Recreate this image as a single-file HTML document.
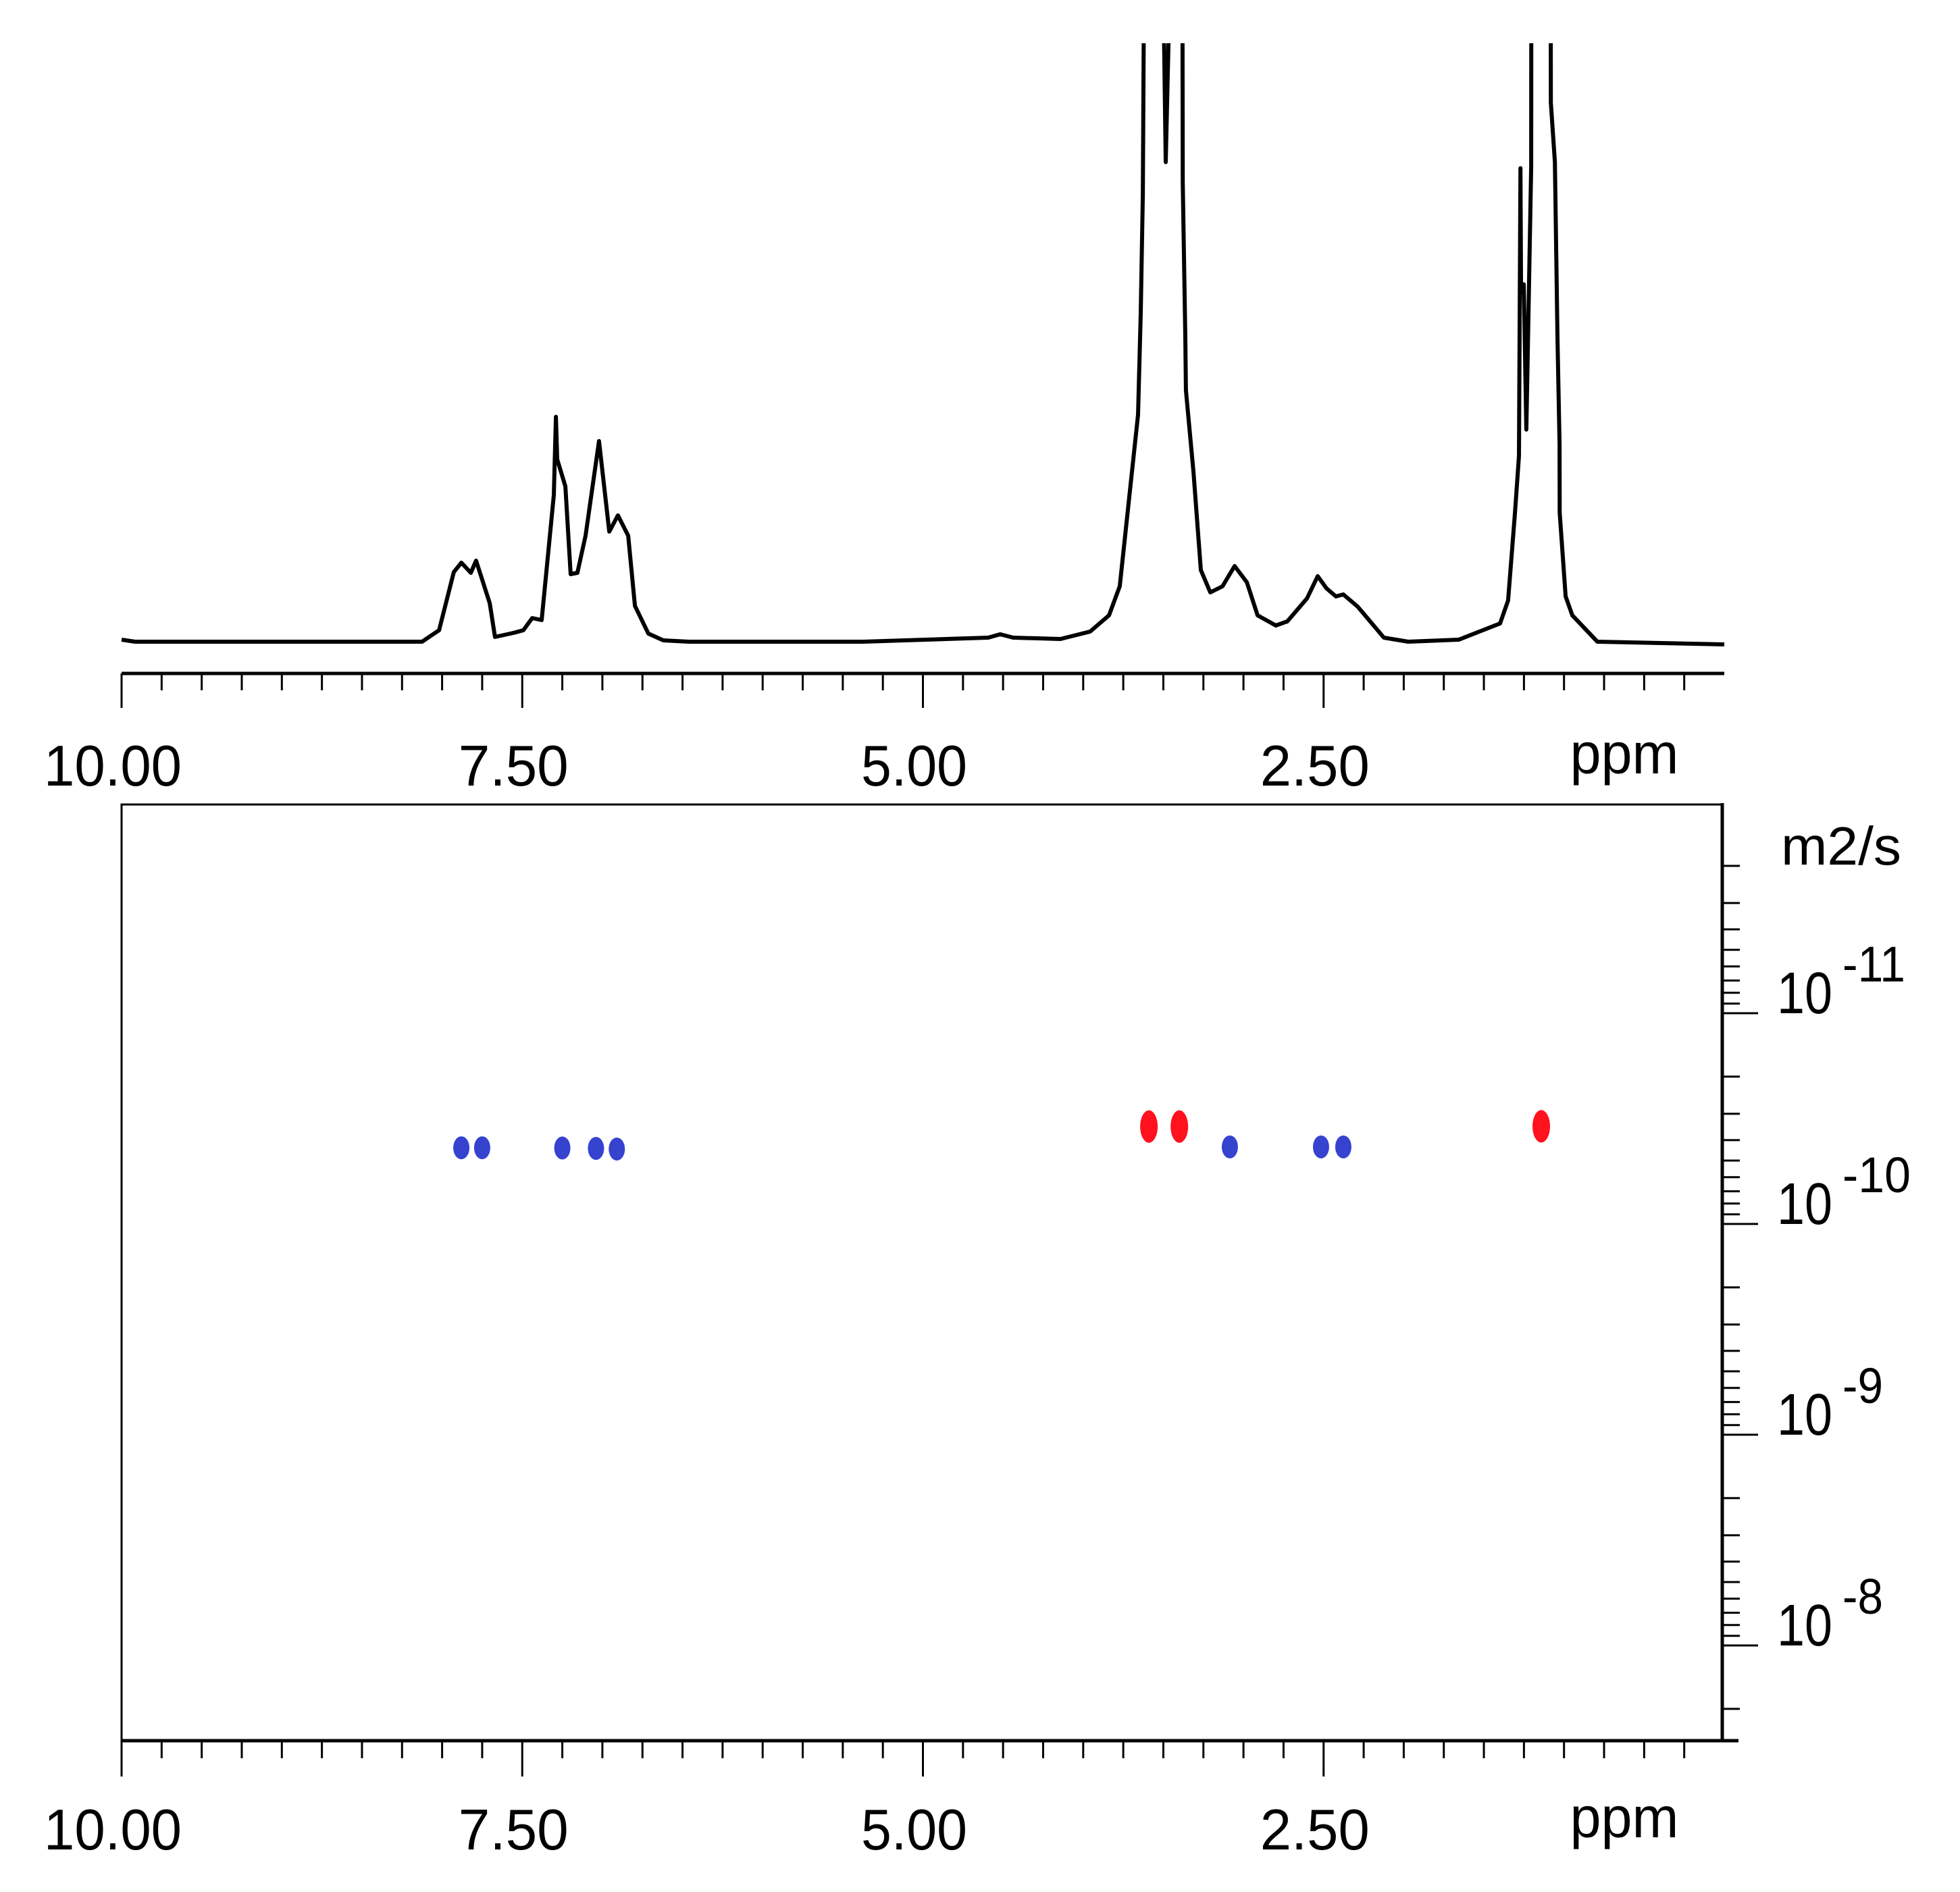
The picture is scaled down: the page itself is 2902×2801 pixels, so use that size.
<!DOCTYPE html>
<html><head><meta charset="utf-8"><style>
html,body{margin:0;padding:0;background:#fff;}
svg{display:block;}
text{font-family:"Liberation Sans",Arial,sans-serif;fill:#000;}
</style></head><body>
<svg id="chart" width="2902" height="2801" viewBox="0 0 2902 2801" xmlns="http://www.w3.org/2000/svg">
<defs><clipPath id="specClip"><rect x="170" y="64" width="2400" height="900"/></clipPath></defs>
<g id="spectrum" clip-path="url(#specClip)"></g>
<g id="topAxis"></g>
<rect x="180" y="1191" width="2370" height="1386" fill="none" stroke="#000" stroke-width="3"/>
<line x1="2550" y1="1189" x2="2550" y2="2579" stroke="#000" stroke-width="5"/>
<g id="rightAxis"></g>
<g id="bottomAxis"></g>
<g id="dots"></g>
<text x="2637" y="1280" font-size="80" textLength="178" lengthAdjust="spacingAndGlyphs">m2/s</text>
</svg>
<script>
// spectrum data (ppm, intensity above baseline)
const specPpm = [10.00,9.916,8.125,8.019,7.927,7.880,7.821,7.788,7.703,7.670,7.556,7.493,7.438,7.379,7.303,7.290,7.282,7.231,7.198,7.156,7.105,7.021,6.957,6.903,6.839,6.797,6.713,6.620,6.460,5.373,4.593,4.518,4.437,4.142,3.957,3.839,3.772,3.704,3.658,3.641,3.628,3.620,3.502,3.485,3.457,3.381,3.379,3.363,3.359,3.312,3.266,3.207,3.131,3.055,2.979,2.912,2.798,2.727,2.604,2.537,2.482,2.423,2.377,2.288,2.124,1.972,1.656,1.399,1.349,1.306,1.281,1.272,1.268,1.251,1.235,1.226,1.205,1.204,1.083,1.082,1.057,1.041,1.028,1.027,0.990,0.948,0.792,0.0];
const specInt = [3,0,0,17,103,117,102,120,57,7,13,17,35,32,217,333,270,230,100,102,157,297,163,187,157,53,12,2,0,0,6,11,6,4,15,39,82,233,336,487,662,1000,1000,710,1000,1000,680,450,372,251,106,73,82,112,88,39,24,30,64,97,79,67,70,52,6,0,3,27,61,191,275,701,517,529,314,432,704,1000,1000,798,710,451,293,191,67,39,0,-4];
// DOSY peaks
const dotPpm = [7.88,7.75,7.25,7.04,6.91,3.59,3.40,3.085,2.516,2.377,1.142];
const dotD = [4.35e-11,4.35e-11,4.36e-11,4.38e-11,4.41e-11,3.45e-11,3.45e-11,4.31e-11,4.31e-11,4.31e-11,3.44e-11];
const dotGroup = ["blue","blue","blue","blue","blue","red","red","blue","blue","blue","red"];
// axis labels
const ppmTickLabels = ["10.00","7.50","5.00","2.50"];
const ppmTickValues = [10,7.5,5,2.5];
const decadeExps = [-11,-10,-9,-8];

const NS="http://www.w3.org/2000/svg";
function X(p){return 180+(10-p)*237.3;}
function Ylog(d){return 1500+(Math.log10(d)+11)*312;}
function Yspec(i){return 950-i;}
function mk(tag,attrs,parent){const e=document.createElementNS(NS,tag);for(const k in attrs)e.setAttribute(k,attrs[k]);parent.appendChild(e);return e;}

// spectrum
const spec=document.getElementById('spectrum');
let d='';
for(let i=0;i<specPpm.length;i++){d+=(i?'L':'M')+X(specPpm[i]).toFixed(1)+' '+Yspec(specInt[i]).toFixed(1);}
const sp=mk('path',{d:d,fill:'none',stroke:'#000','stroke-width':6,'stroke-linejoin':'round'},spec);



// ppm axes
const labelW={"10.00":204,"7.50":163,"5.00":157,"2.50":162};
function ppmAxis(g,y0,ys,yl,lineEnd,base,ppmBase){
  const ln=mk('line',{x1:180,y1:y0,x2:lineEnd,y2:y0,stroke:'#000','stroke-width':5},g);
  
  
  for(let k=0;k<40;k++){
    const p=10-k*0.25;
    const major=(k%10===0);
    const t=mk('line',{x1:X(p),y1:y0,x2:X(p),y2:major?yl:ys,stroke:'#000','stroke-width':3},g);
    
    
  }
  for(let i=0;i<ppmTickLabels.length;i++){
    const s=ppmTickLabels[i];
    const cx=X(ppmTickValues[i])-13;
    const t=mk('text',{x:cx,y:base,'font-size':85,'text-anchor':'middle',textLength:labelW[s],lengthAdjust:'spacingAndGlyphs'},g);
    t.textContent=s;
    
    
  }
  const u=mk('text',{x:2405,y:ppmBase,'font-size':85,'text-anchor':'middle',textLength:161,lengthAdjust:'spacingAndGlyphs'},g);
  u.textContent='ppm';
  
  
}
ppmAxis(document.getElementById('topAxis'),997,1022,1048,2553,1163,1145);
ppmAxis(document.getElementById('bottomAxis'),2577,2603,2630,2574,2738,2720);

// right log axis
const ra=document.getElementById('rightAxis');
for(let e=-12;e<=-8;e++){
  for(let m=1;m<=9;m++){
    const v=m*Math.pow(10,e);
    const y=Ylog(v);
    if(y<1192||y>2578)continue;
    const major=(m===1);
    const t=mk('line',{x1:2550,y1:y,x2:major?2603:2576,y2:y,stroke:'#000','stroke-width':3},ra);
    
    
  }
}
const supW={"-11":93,"-10":101,"-9":60,"-8":60};
decadeExps.forEach(function(ex){
  const y=Ylog(Math.pow(10,ex));
  const t=mk('text',{x:2631,y:y,'font-size':87,textLength:82,lengthAdjust:'spacingAndGlyphs'},ra);
  t.textContent='10';
  
  
  const s=mk('text',{x:2728,y:y-47,'font-size':74,textLength:supW[String(ex)],lengthAdjust:'spacingAndGlyphs'},ra);
  s.textContent=String(ex);
  
  
});

// dots
const dg=document.getElementById('dots');
for(let i=0;i<dotPpm.length;i++){
  const red=dotGroup[i]==='red';
  const el=mk('ellipse',{cx:X(dotPpm[i]),cy:Ylog(dotD[i]),rx:red?13:12,ry:red?24:17,fill:red?'#ff111e':'#3543cf'},dg);
  
  
}
</script>
</body></html>
